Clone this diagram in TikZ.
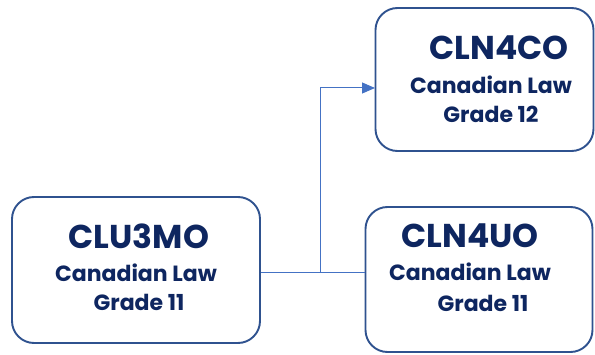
\documentclass[tikz,border=0pt]{standalone}
\usepackage{fontspec}
\setmainfont{Poppins}
\usetikzlibrary{arrows.meta}
\definecolor{boxblue}{HTML}{2F528F}
\definecolor{txtblue}{HTML}{0E2660}
\definecolor{lineblue}{HTML}{4472C4}
\tikzset{
  course/.style={shape=rectangle, draw=boxblue, line width=1.9pt, rounded corners=22pt, fill=white},
  code/.style={text=txtblue, font=\bfseries\fontsize{33}{34}\selectfont},
  title/.style={text=txtblue, font=\bfseries\fontsize{22}{23}\selectfont},
  link/.style={draw=lineblue, line width=1pt}
}
\begin{document}
\begin{tikzpicture}[x=1pt, y=1pt]
    \useasboundingbox (0,0) rectangle (595,354);
    \node[course, minimum width=248pt, minimum height=146pt] (A) at (136,84) {};
    \node[course, minimum width=218pt, minimum height=143pt] (B) at (484.5,274.5) {};
    \node[course, minimum width=227pt, minimum height=145pt] (C) at (479,74.5) {};

    \node[code] (A1) at (139,118) {CLU3MO};
    \node[title] (A2) at (136,81) {Canadian Law};
    \node[title] (A3) at (139,52) {Grade 11};

    \node[code] (B1) at (499,306) {CLN4CO};
    \node[title] (B2) at (491,269) {Canadian Law};
    \node[title] (B3) at (491,240) {Grade 12};

    \node[code] (C1) at (470,118) {CLN4UO};
    \node[title] (C2) at (470,82) {Canadian Law};
    \node[title] (C3) at (483,51) {Grade 11};

    \coordinate (J) at (320,82);
    \coordinate (T) at (375,266);

    \path [link] (A.east |- J) -- (C.west |- J);
    \path [link, -{Triangle[length=13pt, width=11pt]}] (J) |- (T);
\end{tikzpicture}
\end{document}
